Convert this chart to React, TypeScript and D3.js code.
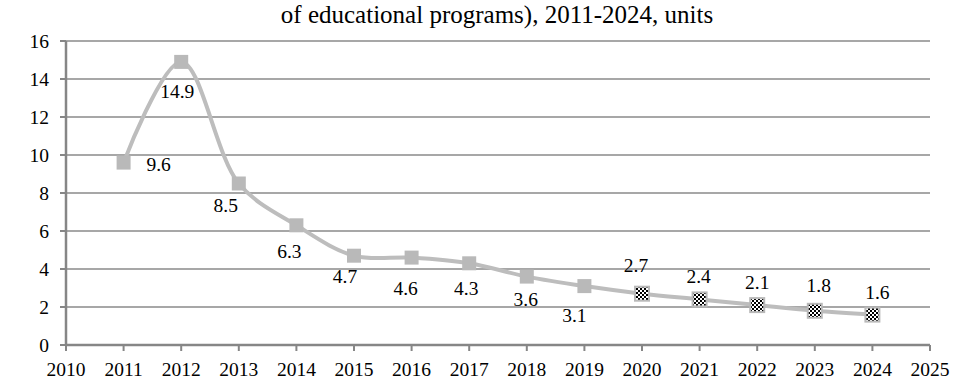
import React from "react";
import * as d3 from "d3";

const years = [2011, 2012, 2013, 2014, 2015, 2016, 2017, 2018, 2019, 2020, 2021, 2022, 2023, 2024];
const values = [9.6, 14.9, 8.5, 6.3, 4.7, 4.6, 4.3, 3.6, 3.1, 2.7, 2.4, 2.1, 1.8, 1.6];
const labels = ["9.6", "14.9", "8.5", "6.3", "4.7", "4.6", "4.3", "3.6", "3.1", "2.7", "2.4", "2.1", "1.8", "1.6"];
const forecastFrom = 2020;
const yTicks = [0, 2, 4, 6, 8, 10, 12, 14, 16];
const xTicks = [2010, 2011, 2012, 2013, 2014, 2015, 2016, 2017, 2018, 2019, 2020, 2021, 2022, 2023, 2024, 2025];
const title = "of educational programs), 2011-2024, units";

// label offsets (style): dx, dy relative to the point
const labelOffsets: [number, number][] = [
  [35, 2], [-4, 29], [-13, 22], [-7, 26], [-9, 20], [-6, 31], [-3, 25],
  [-1, 23], [-10, 29], [-6, -29], [-1, -23], [0, -23], [4, -26], [5, -22],
];

const W = 971;
const H = 391;
const left = 66;
const right = 930;
const top = 41;
const bottom = 345;

export default function App() {
  const x = d3.scaleLinear().domain([2010, 2025]).range([left, right]);
  const y = d3.scaleLinear().domain([0, 16]).range([bottom, top]);
  const pts = years.map((yr, i) => [x(yr), y(values[i])] as [number, number]);
  const line = d3.line().curve(d3.curveCatmullRom.alpha(0.5))(pts) || "";
  const font = "Liberation Serif, DejaVu Serif, Times New Roman, Times, serif";
  const fs = 19.5;
  const ms = 14;
  return (
    <svg
      width={W}
      height={H}
      style={{ position: "absolute", left: 0, top: 0, background: "#fff" }}
      fontFamily={font}
    >
      <defs>
        <pattern id="checker" width="4" height="4" patternUnits="userSpaceOnUse">
          <rect width="4" height="4" fill="#fff" />
          <rect width="2" height="2" fill="#000" />
          <rect x="2" y="2" width="2" height="2" fill="#000" />
        </pattern>
      </defs>
      <text x={497} y={23} textAnchor="middle" fontSize={25} fill="#000" fontFamily={font}>
        {title}
      </text>
      {yTicks.filter((t) => t > 0).map((t) => (
        <line key={"g" + t} x1={left} x2={right} y1={y(t)} y2={y(t)} stroke="#8a8a8a" strokeWidth={1.5} />
      ))}
      {yTicks.map((t) => (
        <g key={"yt" + t}>
          <line x1={left - 6} x2={left} y1={y(t)} y2={y(t)} stroke="#868686" strokeWidth={2} />
          <text x={49} y={y(t)} dy="0.35em" textAnchor="end" fontSize={fs} fill="#000" fontFamily={font}>
            {t}
          </text>
        </g>
      ))}
      {xTicks.map((t) => (
        <g key={"xt" + t}>
          <line x1={x(t)} x2={x(t)} y1={bottom} y2={bottom + 6} stroke="#868686" strokeWidth={2} />
          <text x={x(t)} y={376} textAnchor="middle" fontSize={fs} fill="#000" fontFamily={font}>
            {t}
          </text>
        </g>
      ))}
      <line x1={left} x2={left} y1={top} y2={bottom} stroke="#868686" strokeWidth={2.5} />
      <line x1={left} x2={right} y1={bottom} y2={bottom} stroke="#868686" strokeWidth={2.5} />
      <path d={line} fill="none" stroke="#bdbdbd" strokeWidth={4} />
      {pts.map(([px, py], i) => {
        const fc = years[i] >= forecastFrom;
        return (
          <rect
            key={"m" + i}
            x={px - ms / 2}
            y={py - ms / 2}
            width={ms}
            height={ms}
            fill={fc ? "url(#checker)" : "#b9b9b9"}
            stroke={fc ? "#b9b9b9" : "none"}
            strokeWidth={fc ? 2 : 0}
          />
        );
      })}
      {pts.map(([px, py], i) => (
        <text
          key={"l" + i}
          x={px + labelOffsets[i][0]}
          y={py + labelOffsets[i][1]}
          dy="0.35em"
          textAnchor="middle"
          fontSize={fs}
          fill="#000"
          fontFamily={font}
        >
          {labels[i]}
        </text>
      ))}
    </svg>
  );
}
